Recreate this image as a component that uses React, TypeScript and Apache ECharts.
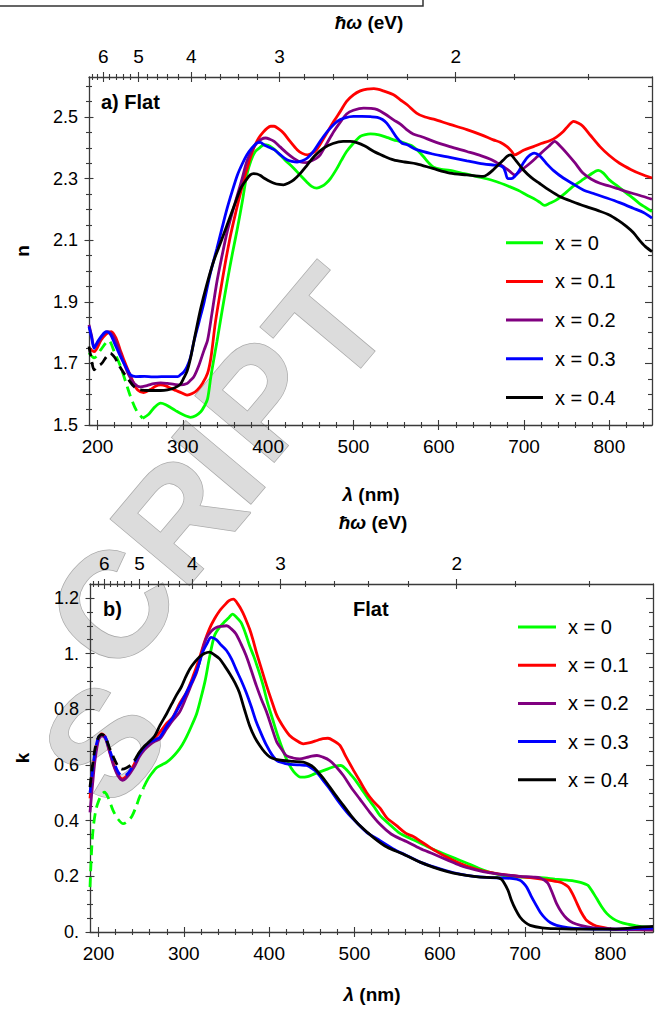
import React, { useEffect, useRef } from 'react';
import * as echarts from 'echarts';

const FONT = '"Liberation Sans", Arial, Helvetica, sans-serif';
const HC = 1239.84;

// ---- axis ticks ----
const X_MAJOR = [200, 300, 400, 500, 600, 700, 800];
const X_MINOR = [220, 240, 260, 280, 320, 340, 360, 380, 420, 440, 460, 480, 520, 540, 560, 580, 620, 640, 660, 680, 720, 740, 760, 780, 820, 840];
const ENERGY_MAJOR = [6, 5, 4, 3, 2];
const ENERGY_MINOR = [6.4, 6.2, 5.8, 5.6, 5.4, 5.2, 4.8, 4.6, 4.4, 4.2, 3.8, 3.6, 3.4, 3.2, 2.8, 2.6, 2.4, 2.2, 1.8, 1.6];
const N_MAJOR = [1.5, 1.7, 1.9, 2.1, 2.3, 2.5];
const N_MINOR = [1.55, 1.6, 1.65, 1.75, 1.8, 1.85, 1.95, 2.0, 2.05, 2.15, 2.2, 2.25, 2.35, 2.4, 2.45, 2.55, 2.6];
const K_MAJOR = [0, 0.2, 0.4, 0.6, 0.8, 1.0, 1.2];
const K_LABELS = ['0.', '0.2', '0.4', '0.6', '0.8', '1.', '1.2'];
const K_MINOR = [0.05, 0.1, 0.15, 0.25, 0.3, 0.35, 0.45, 0.5, 0.55, 0.65, 0.7, 0.75, 0.85, 0.9, 0.95, 1.05, 1.1, 1.15];

const SERIES_NAMES = ['x = 0', 'x = 0.1', 'x = 0.2', 'x = 0.3', 'x = 0.4'];

// ---- refractive index n (panel a) ----
const N_X0 = [[190,1.734],[196,1.718],[204,1.745],[213,1.774],[220,1.735],[227,1.69],[233,1.64],[239,1.59],[246,1.545],[253,1.522],[260,1.535],[267,1.558],[274,1.571],[280,1.566],[286,1.556],[292,1.546],[297,1.538],[303,1.53],[309,1.525],[315,1.53],[321,1.543],[325,1.56],[329,1.585],[333,1.66],[340,1.771],[346,1.87],[352,1.966],[358,2.055],[364,2.139],[370,2.23],[375,2.312],[380,2.36],[385,2.388],[390,2.40],[395,2.41],[400,2.408],[405,2.40],[410,2.388],[420,2.36],[430,2.334],[438,2.31],[445,2.29],[451,2.275],[457,2.269],[463,2.275],[468,2.285],[473,2.30],[480,2.33],[486,2.36],[492,2.388],[500,2.415],[508,2.437],[514,2.443],[520,2.445],[530,2.442],[540,2.433],[547,2.426],[555,2.42],[563,2.412],[570,2.404],[576,2.39],[582,2.372],[588,2.352],[594,2.337],[603,2.33],[613,2.327],[630,2.316],[652,2.302],[668,2.29],[683,2.274],[693,2.262],[703,2.247],[714,2.231],[719,2.222],[724,2.213],[730,2.22],[738,2.231],[748,2.252],[757,2.274],[767,2.293],[777,2.312],[787,2.327],[793,2.318],[800,2.296],[810,2.275],[820,2.253],[828,2.236],[835,2.22],[842,2.207],[850,2.193]];
const N_X1 = [[190,1.75],[196,1.738],[204,1.775],[210,1.795],[216,1.803],[222,1.78],[227,1.74],[231,1.711],[235,1.683],[239,1.657],[243,1.632],[247,1.614],[254,1.605],[262,1.615],[268,1.626],[274,1.63],[280,1.627],[286,1.619],[292,1.612],[298,1.605],[305,1.597],[311,1.602],[317,1.614],[323,1.635],[329,1.668],[333,1.72],[338,1.83],[344,1.933],[350,2.03],[356,2.117],[362,2.19],[368,2.258],[374,2.32],[379,2.367],[384,2.405],[389,2.432],[394,2.45],[399,2.464],[403,2.47],[407,2.47],[412,2.462],[418,2.448],[426,2.42],[434,2.394],[440,2.382],[446,2.377],[452,2.383],[457,2.394],[465,2.43],[477,2.486],[485,2.52],[492,2.551],[500,2.572],[508,2.585],[516,2.591],[524,2.592],[535,2.585],[547,2.572],[555,2.556],[563,2.54],[574,2.513],[584,2.5],[594,2.493],[613,2.476],[633,2.459],[650,2.442],[664,2.426],[672,2.418],[680,2.404],[685,2.39],[689,2.377],[695,2.385],[700,2.393],[711,2.404],[720,2.414],[730,2.423],[738,2.435],[746,2.453],[752,2.472],[758,2.486],[764,2.48],[769,2.47],[778,2.44],[789,2.404],[800,2.375],[812,2.35],[825,2.33],[837,2.315],[850,2.302]];
const N_X2 = [[190,1.825],[193,1.79],[196,1.755],[200,1.765],[206,1.79],[212,1.803],[218,1.79],[224,1.755],[231,1.70],[237,1.66],[243,1.635],[250,1.624],[258,1.628],[266,1.634],[274,1.637],[282,1.635],[290,1.632],[297,1.63],[305,1.635],[309,1.645],[313,1.657],[319,1.695],[325,1.744],[329,1.775],[334,1.86],[340,1.966],[346,2.05],[352,2.128],[358,2.19],[364,2.247],[370,2.305],[375,2.356],[381,2.392],[387,2.416],[392,2.428],[397,2.432],[402,2.428],[407,2.421],[414,2.403],[422,2.383],[430,2.366],[438,2.354],[445,2.352],[450,2.357],[456,2.365],[461,2.377],[469,2.415],[477,2.453],[485,2.485],[492,2.51],[500,2.522],[512,2.529],[520,2.528],[528,2.524],[537,2.51],[547,2.491],[555,2.477],[562,2.46],[570,2.445],[580,2.436],[594,2.421],[613,2.404],[633,2.388],[650,2.374],[660,2.364],[668,2.352],[676,2.339],[683,2.324],[689,2.312],[697,2.328],[707,2.35],[715,2.37],[722,2.388],[729,2.405],[736,2.421],[742,2.407],[750,2.383],[760,2.35],[769,2.318],[779,2.298],[789,2.285],[800,2.276],[810,2.267],[820,2.258],[835,2.246],[850,2.233]];
const N_X3 = [[190,1.82],[193,1.785],[196,1.749],[200,1.77],[205,1.79],[210,1.803],[215,1.795],[220,1.765],[227,1.722],[233,1.69],[239,1.662],[245,1.657],[255,1.658],[265,1.656],[275,1.657],[285,1.657],[294,1.657],[298,1.665],[301,1.672],[305,1.69],[309,1.72],[313,1.771],[319,1.835],[325,1.90],[332,1.99],[340,2.074],[346,2.14],[352,2.204],[358,2.26],[364,2.312],[370,2.35],[375,2.377],[381,2.40],[387,2.416],[391,2.418],[395,2.41],[401,2.402],[407,2.394],[414,2.378],[422,2.361],[428,2.356],[434,2.354],[440,2.358],[446,2.367],[454,2.392],[461,2.421],[470,2.455],[481,2.486],[490,2.497],[500,2.502],[510,2.502],[520,2.501],[528,2.499],[534,2.492],[539,2.48],[545,2.457],[551,2.432],[557,2.415],[563,2.41],[574,2.394],[593,2.38],[613,2.369],[633,2.358],[652,2.348],[665,2.344],[672,2.342],[676,2.335],[678,2.322],[681,2.3],[685,2.3],[689,2.307],[694,2.325],[699,2.35],[705,2.372],[712,2.383],[718,2.375],[726,2.35],[735,2.325],[746,2.302],[758,2.282],[769,2.264],[783,2.25],[797,2.237],[812,2.222],[828,2.204],[840,2.19],[850,2.172]];
const N_X4 = [[190,1.755],[193,1.71],[196,1.679],[200,1.69],[205,1.70],[210,1.72],[215,1.733],[220,1.72],[226,1.69],[231,1.668],[237,1.645],[243,1.624],[250,1.614],[258,1.612],[266,1.612],[274,1.612],[282,1.614],[290,1.62],[297,1.632],[301,1.652],[305,1.675],[309,1.717],[315,1.80],[321,1.879],[328,1.955],[336,2.031],[344,2.09],[352,2.15],[360,2.21],[368,2.269],[374,2.295],[379,2.312],[383,2.316],[387,2.315],[391,2.31],[395,2.302],[400,2.294],[407,2.285],[413,2.281],[418,2.28],[424,2.286],[430,2.296],[438,2.318],[446,2.345],[455,2.375],[465,2.399],[476,2.414],[488,2.421],[496,2.421],[504,2.417],[514,2.405],[524,2.388],[535,2.374],[547,2.361],[560,2.354],[574,2.348],[593,2.333],[613,2.318],[633,2.312],[652,2.307],[658,2.315],[664,2.329],[670,2.345],[676,2.361],[680,2.372],[684,2.377],[690,2.36],[699,2.329],[708,2.305],[718,2.285],[730,2.262],[742,2.242],[757,2.225],[773,2.209],[787,2.196],[800,2.182],[810,2.165],[820,2.145],[828,2.125],[835,2.101],[842,2.08],[850,2.063]];

// ---- extinction coefficient k (panel b) ----
const K_X0 = [[190,0.161],[192,0.30],[194,0.38],[197,0.44],[200,0.47],[204,0.495],[207,0.502],[211,0.485],[217,0.437],[223,0.405],[229,0.389],[234,0.398],[239,0.415],[244,0.45],[248,0.484],[253,0.52],[258,0.55],[263,0.572],[268,0.59],[274,0.60],[280,0.61],[286,0.626],[292,0.646],[298,0.672],[303,0.70],[309,0.74],[315,0.784],[320,0.84],[325,0.903],[330,0.985],[336,1.065],[342,1.095],[348,1.115],[353,1.13],[357,1.142],[362,1.13],[367,1.112],[372,1.075],[377,1.029],[382,0.99],[387,0.945],[393,0.885],[398,0.825],[404,0.765],[410,0.706],[416,0.655],[422,0.61],[429,0.575],[437,0.556],[445,0.558],[453,0.568],[461,0.577],[469,0.586],[477,0.595],[484,0.598],[490,0.585],[495,0.568],[500,0.55],[508,0.515],[516,0.479],[523,0.45],[530,0.418],[540,0.39],[553,0.355],[565,0.337],[577,0.32],[589,0.302],[600,0.287],[612,0.272],[624,0.257],[636,0.242],[647,0.227],[660,0.213],[678,0.201],[698,0.197],[718,0.195],[735,0.19],[749,0.186],[758,0.183],[765,0.178],[770,0.173],[774,0.167],[779,0.145],[784,0.12],[790,0.09],[796,0.066],[803,0.048],[811,0.036],[820,0.028],[831,0.022],[840,0.018],[850,0.015]];
const K_X1 = [[190,0.48],[193,0.57],[196,0.64],[200,0.695],[204,0.712],[208,0.70],[213,0.65],[218,0.6],[223,0.565],[228,0.55],[233,0.56],[238,0.58],[243,0.61],[248,0.64],[254,0.665],[260,0.682],[266,0.698],[272,0.718],[280,0.75],[287,0.771],[295,0.82],[303,0.86],[311,0.92],[318,0.981],[324,1.04],[330,1.089],[336,1.125],[342,1.154],[348,1.175],[353,1.19],[358,1.196],[364,1.175],[369,1.148],[373,1.12],[377,1.089],[381,1.05],[385,1.005],[391,0.945],[397,0.885],[403,0.83],[409,0.778],[416,0.74],[424,0.706],[432,0.688],[440,0.676],[448,0.68],[456,0.688],[463,0.695],[469,0.696],[476,0.686],[483,0.67],[490,0.63],[498,0.586],[506,0.544],[514,0.502],[522,0.47],[530,0.445],[538,0.41],[549,0.383],[560,0.355],[569,0.343],[578,0.325],[588,0.305],[598,0.286],[608,0.269],[620,0.251],[635,0.233],[650,0.22],[667,0.21],[686,0.202],[706,0.195],[723,0.188],[741,0.179],[746,0.172],[751,0.161],[756,0.135],[761,0.102],[766,0.07],[772,0.042],[780,0.026],[788,0.018],[803,0.01],[820,0.009],[850,0.008]];
const K_X2 = [[190,0.43],[193,0.53],[196,0.62],[200,0.69],[204,0.705],[208,0.695],[213,0.645],[218,0.595],[223,0.56],[228,0.545],[233,0.555],[238,0.575],[243,0.60],[248,0.63],[254,0.655],[260,0.672],[266,0.685],[272,0.694],[280,0.73],[287,0.76],[295,0.79],[303,0.845],[309,0.89],[315,0.933],[320,0.99],[326,1.053],[332,1.08],[338,1.094],[344,1.098],[350,1.10],[356,1.088],[361,1.071],[367,1.035],[373,0.993],[379,0.94],[385,0.885],[391,0.835],[397,0.79],[403,0.735],[409,0.682],[415,0.655],[420,0.634],[428,0.625],[436,0.622],[444,0.627],[450,0.632],[456,0.634],[463,0.628],[471,0.616],[479,0.592],[487,0.562],[496,0.52],[506,0.479],[518,0.43],[530,0.387],[543,0.352],[555,0.333],[561,0.325],[577,0.3],[592,0.281],[608,0.26],[624,0.239],[641,0.224],[659,0.212],[677,0.205],[694,0.2],[710,0.197],[718,0.194],[723,0.185],[727,0.174],[732,0.14],[737,0.102],[743,0.07],[749,0.048],[756,0.033],[765,0.024],[780,0.015],[803,0.01],[850,0.008]];
const K_X3 = [[190,0.50],[193,0.58],[196,0.65],[200,0.70],[204,0.71],[208,0.70],[213,0.655],[218,0.61],[223,0.575],[228,0.56],[233,0.565],[238,0.585],[243,0.612],[248,0.64],[254,0.665],[260,0.682],[266,0.69],[272,0.70],[280,0.74],[287,0.77],[295,0.813],[303,0.86],[311,0.909],[317,0.955],[322,1.005],[327,1.035],[332,1.058],[338,1.05],[344,1.03],[350,1.011],[356,0.98],[361,0.945],[367,0.905],[373,0.861],[379,0.81],[385,0.754],[391,0.71],[397,0.67],[403,0.638],[409,0.616],[418,0.606],[428,0.601],[436,0.6],[444,0.598],[450,0.588],[456,0.574],[463,0.545],[471,0.514],[481,0.47],[491,0.431],[502,0.395],[514,0.359],[530,0.328],[545,0.299],[561,0.275],[577,0.251],[592,0.235],[608,0.22],[624,0.208],[640,0.2],[655,0.196],[672,0.194],[686,0.192],[694,0.186],[698,0.176],[702,0.161],[707,0.13],[712,0.102],[718,0.07],[724,0.048],[730,0.033],[737,0.024],[750,0.016],[765,0.012],[800,0.01],[830,0.012],[850,0.014]];
const K_X4 = [[190,0.52],[193,0.6],[196,0.66],[200,0.70],[204,0.71],[208,0.70],[213,0.66],[218,0.625],[223,0.595],[228,0.585],[233,0.59],[238,0.60],[243,0.62],[248,0.646],[254,0.668],[260,0.685],[266,0.705],[272,0.742],[280,0.785],[286,0.82],[291,0.849],[297,0.88],[302,0.915],[307,0.945],[313,0.97],[318,0.987],[324,1.0],[330,1.005],[336,0.995],[342,0.981],[348,0.955],[354,0.927],[360,0.895],[365,0.861],[371,0.8],[377,0.742],[383,0.7],[389,0.67],[395,0.645],[401,0.628],[408,0.62],[416,0.616],[428,0.613],[440,0.61],[446,0.603],[452,0.592],[460,0.565],[467,0.538],[477,0.495],[487,0.455],[496,0.418],[506,0.383],[522,0.34],[538,0.305],[557,0.28],[577,0.251],[592,0.233],[608,0.218],[624,0.207],[640,0.2],[655,0.196],[667,0.195],[672,0.19],[675,0.179],[680,0.15],[684,0.114],[689,0.08],[694,0.054],[700,0.035],[706,0.024],[720,0.015],[735,0.012],[770,0.01],[803,0.01],[820,0.013],[835,0.018],[850,0.02]];

const CURVES = [
  { name: SERIES_NAMES[0], color: '#00ff00', n: N_X0, k: K_X0, nDashTo: 253, kDashTo: 253 },
  { name: SERIES_NAMES[1], color: '#ff0000', n: N_X1, k: K_X1, nDashTo: 0, kDashTo: 0 },
  { name: SERIES_NAMES[2], color: '#800080', n: N_X2, k: K_X2, nDashTo: 0, kDashTo: 0 },
  { name: SERIES_NAMES[3], color: '#0000ff', n: N_X3, k: K_X3, nDashTo: 0, kDashTo: 240 },
  { name: SERIES_NAMES[4], color: '#000000', n: N_X4, k: K_X4, nDashTo: 250, kDashTo: 240 },
];

// decorative watermark letters
const WATERMARK_LETTERS = ['S', 'C', 'R', 'I', 'P', 'T'];
const WATERMARK_POS = [[104, 742], [112, 606], [178, 518], [218, 462], [260, 398], [328, 326]];

const AXIS_COLOR = '#3a3a3a';

function splitData(data: number[][], at: number) {
  if (!at) return [null, data];
  const i = data.findIndex((p) => p[0] >= at);
  return [data.slice(0, i + 1), data.slice(i)];
}

function tickAxis(gridIndex: number, pos: string, range: [number, number], values: number[], len: number, inside: boolean, extra: any = {}) {
  return {
    type: 'value',
    gridIndex,
    position: pos,
    min: range[0],
    max: range[1],
    splitLine: { show: false },
    axisLine: { show: false, onZero: false },
    axisLabel: { show: false },
    axisTick: { show: true, inside, length: len, customValues: values, lineStyle: { color: AXIS_COLOR, width: 1.1 } },
    ...extra,
  };
}

function buildXAxes(gridIndex: number) {
  const r: [number, number] = [190, 850];
  const energyMajor = ENERGY_MAJOR.map((e) => HC / e);
  const energyMinor = ENERGY_MINOR.map((e) => HC / e);
  return [
    tickAxis(gridIndex, 'bottom', r, X_MAJOR, 5, false, {
      axisLine: { show: true, onZero: false, lineStyle: { color: AXIS_COLOR, width: 1.3 } },
      axisLabel: { show: true, customValues: X_MAJOR, margin: 12, fontSize: 19, color: '#000', fontFamily: FONT },
    }),
    tickAxis(gridIndex, 'bottom', r, X_MAJOR, 5, true),
    tickAxis(gridIndex, 'bottom', r, X_MINOR, 3, false),
    tickAxis(gridIndex, 'bottom', r, X_MINOR, 3, true),
    tickAxis(gridIndex, 'top', r, energyMajor, 5, false, {
      axisLine: { show: true, onZero: false, lineStyle: { color: AXIS_COLOR, width: 1.3 } },
      axisLabel: {
        show: true, customValues: energyMajor, margin: 11, fontSize: 19, color: '#000', fontFamily: FONT,
        formatter: (v: number) => String(Math.round(HC / v)),
      },
    }),
    tickAxis(gridIndex, 'top', r, energyMajor, 5, true),
    tickAxis(gridIndex, 'top', r, energyMinor, 3, false),
    tickAxis(gridIndex, 'top', r, energyMinor, 3, true),
  ];
}

function buildYAxes(gridIndex: number, range: [number, number], major: number[], minor: number[], fmt: (v: number) => string) {
  return [
    tickAxis(gridIndex, 'left', range, major, 4.5, false, {
      axisLine: { show: true, onZero: false, lineStyle: { color: AXIS_COLOR, width: 1.3 } },
      axisLabel: { show: true, customValues: major, margin: 11, fontSize: 18, color: '#000', fontFamily: FONT, formatter: fmt },
    }),
    tickAxis(gridIndex, 'left', range, major, 4.5, true),
    tickAxis(gridIndex, 'left', range, minor, 3, false),
    tickAxis(gridIndex, 'left', range, minor, 3, true),
    tickAxis(gridIndex, 'right', range, major, 7, true, {
      axisLine: { show: true, onZero: false, lineStyle: { color: AXIS_COLOR, width: 1.3 } },
    }),
    tickAxis(gridIndex, 'right', range, minor, 4, true),
  ];
}

function lineSeries(name: string, color: string, data: number[][], xi: number, yi: number, dashed: boolean) {
  return {
    type: 'line',
    name,
    data,
    xAxisIndex: xi,
    yAxisIndex: yi,
    showSymbol: false,
    symbol: 'none',
    smooth: 0.3,
    color,
    silent: true,
    lineStyle: { color, width: 2.8, type: dashed ? [10, 6] : 'solid' },
    itemStyle: { color },
  };
}

function buildSeries() {
  const out: any[] = [];
  const panels = [
    { key: 'n', dashKey: 'nDashTo', xi: 0, yi: 0 },
    { key: 'k', dashKey: 'kDashTo', xi: 8, yi: 6 },
  ];
  panels.forEach((p) => {
    CURVES.forEach((c: any) => {
      const [dashed, solid] = splitData(c[p.key], c[p.dashKey]);
      if (dashed) out.push(lineSeries(c.name + ' (UV)', c.color, dashed as number[][], p.xi, p.yi, true));
      out.push(lineSeries(c.name, c.color, solid as number[][], p.xi, p.yi, false));
    });
  });
  return out;
}

function txt(x: number, y: number, text: string, size: number, opts: any = {}) {
  return {
    type: 'text',
    x,
    y,
    silent: true,
    rotation: opts.rotation || 0,
    style: {
      text,
      fill: '#000',
      fontSize: size,
      fontWeight: opts.weight || 'bold',
      fontFamily: FONT,
      align: opts.align || 'center',
      verticalAlign: 'middle',
      rich: opts.rich,
    },
  };
}

function legend(left: number, top: number, iconW: number, gap: number) {
  return {
    data: SERIES_NAMES,
    orient: 'vertical',
    left,
    top,
    padding: 0,
    itemWidth: iconW,
    itemHeight: 3,
    itemGap: gap,
    icon: 'rect',
    selectedMode: false,
    itemStyle: { borderWidth: 0 },
    textStyle: { fontSize: 20, lineHeight: 20, color: '#000', fontFamily: FONT, padding: [0, 0, 0, 7] },
  };
}

function watermark() {
  return WATERMARK_LETTERS.map((ch, i) => ({
    type: 'text',
    x: WATERMARK_POS[i][0],
    y: WATERMARK_POS[i][1],
    rotation: (50 * Math.PI) / 180,
    silent: true,
    z: -10,
    style: {
      text: ch,
      fontSize: 150,
      lineHeight: 110,
      fontWeight: 'bold',
      fontFamily: FONT,
      fill: '#dcdcdc',
      stroke: '#ababab',
      lineWidth: 1.5,
      align: 'center',
      verticalAlign: 'middle',
    },
  }));
}

function buildOption() {
  const italic = { fontStyle: 'italic', fontWeight: 'bold', fontSize: 19, fontFamily: FONT, fill: '#000' };
  return {
    animation: false,
    backgroundColor: '#ffffff',
    grid: [
      { left: 89, top: 77, width: 563, height: 348 },
      { left: 90, top: 584, width: 563, height: 348 },
    ],
    xAxis: [...buildXAxes(0), ...buildXAxes(1)],
    yAxis: [
      ...buildYAxes(0, [1.5, 2.63], N_MAJOR, N_MINOR, (v) => v.toFixed(1)),
      ...buildYAxes(1, [0, 1.25], K_MAJOR, K_MINOR, (v) => K_LABELS[K_MAJOR.findIndex((t) => Math.abs(t - v) < 1e-6)] || ''),
    ],
    legend: [legend(506, 232.7, 37, 18.7), legend(518, 617, 38, 18.2)],
    series: buildSeries(),
    graphic: {
      elements: [
        ...watermark(),
        {
          type: 'polyline',
          silent: true,
          shape: { points: [[0, 6], [423, 6], [423, 0]] },
          style: { stroke: '#333', lineWidth: 1.5, fill: null },
        },
        txt(369, 22, '{i|ħω} (eV)', 19, { rich: { i: italic } }),
        txt(373, 522, '{i|ħω} (eV)', 19, { rich: { i: italic } }),
        txt(371, 494, '{i|λ} (nm)', 19, { rich: { i: italic } }),
        txt(372, 994, '{i|λ} (nm)', 19, { rich: { i: italic } }),
        txt(22, 251, 'n', 19, { rotation: Math.PI / 2 }),
        txt(22, 758, 'k', 19, { rotation: Math.PI / 2 }),
        txt(101, 102, 'a) Flat', 20, { align: 'left' }),
        txt(103, 609, 'b)', 20, { align: 'left' }),
        txt(353, 609, 'Flat', 20, { align: 'left' }),
      ],
    },
  };
}

export default function App() {
  const ref = useRef<HTMLDivElement>(null);
  useEffect(() => {
    if (!ref.current) return;
    const chart = echarts.init(ref.current, null, { renderer: 'svg' });
    chart.setOption(buildOption() as any);
    return () => chart.dispose();
  }, []);
  return (
    <div
      ref={ref}
      style={{ position: 'fixed', left: 0, top: 0, width: 667, height: 1011, background: '#fff' }}
    />
  );
}
